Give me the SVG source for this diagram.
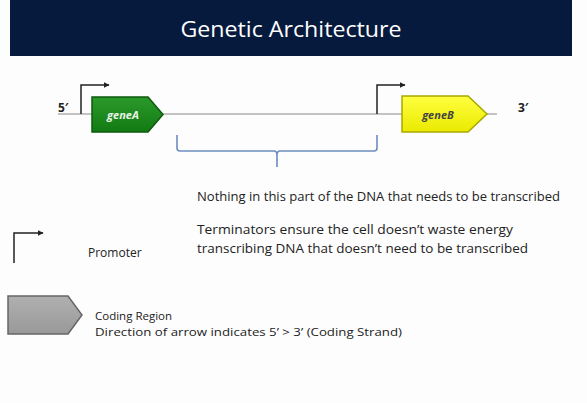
<svg xmlns="http://www.w3.org/2000/svg" width="587" height="403" viewBox="0 0 587 403">
<defs>
<marker id="ah" viewBox="0 0 10 10" refX="9" refY="5" markerWidth="4" markerHeight="4" orient="auto" markerUnits="strokeWidth">
<path d="M0,0 L10,5 L0,10 z" fill="#222"/>
</marker>
<linearGradient id="gg" x1="0" y1="0" x2="0" y2="1"><stop offset="0" stop-color="#2a9a2a"/><stop offset="1" stop-color="#137a13"/></linearGradient>
<linearGradient id="gy" x1="0" y1="0" x2="0" y2="1"><stop offset="0" stop-color="#ffff40"/><stop offset="1" stop-color="#eaea00"/></linearGradient>
<linearGradient id="gr" x1="0" y1="0" x2="0" y2="1"><stop offset="0" stop-color="#b0b0b0"/><stop offset="1" stop-color="#999"/></linearGradient>
</defs>
<style>
text{font-family:"Open Sans","Noto Sans","Liberation Sans",sans-serif;fill:#222}
.body{font-size:12px}
.small{font-size:11.5px}
.prom{fill:none;stroke:#222;stroke-width:1.5;marker-end:url(#ah)}
.dna{stroke:#8a8a8a;stroke-width:1.2}
.glabel{font-size:11px;font-style:italic;font-weight:bold}
</style>
<rect width="587" height="403" fill="#fdfdfd"/>
<g id="header">
<rect x="10" y="0" width="562" height="56" fill="#061a3e"/>
<text x="291" y="37" text-anchor="middle" font-size="22" textLength="221" lengthAdjust="spacingAndGlyphs" style="fill:#ffffff">Genetic Architecture</text>
</g>
<g id="connectors">
<line class="dna" x1="58" y1="114" x2="497" y2="114"/>
<path class="prom" d="M81,114 V85 H109"/>
<path class="prom" d="M377,114 V85 H405"/>
<path d="M177,135 V148 Q177,151 180,151 H274 Q277,151 277,155 V167 M277,155 Q277,151 280,151 H374 Q377,151 377,148 V135" fill="none" stroke="#6a8cbf" stroke-width="1.6"/>
</g>
<g id="end5"><text x="58" y="112" font-size="12" font-weight="bold">5′</text></g>
<g id="end3"><text x="518" y="112" font-size="12" font-weight="bold">3′</text></g>
<g id="geneA">
<path d="M92,97 H148 L163,114.5 L148,132 H92 z" fill="url(#gg)" stroke="#0d5a0d" stroke-width="1.5"/>
<text class="glabel" x="123" y="119" text-anchor="middle" style="fill:#e8f5e8">geneA</text>
</g>
<g id="geneB">
<path d="M402,96 H468 L487,114 L468,132 H402 z" fill="url(#gy)" stroke="#a8a800" stroke-width="1.5"/>
<text class="glabel" x="438" y="119" text-anchor="middle" style="fill:#444">geneB</text>
</g>
<g id="note1">
<text class="body" x="197" y="201" textLength="363" lengthAdjust="spacingAndGlyphs">Nothing in this part of the DNA that needs to be transcribed</text>
</g>
<g id="note2">
<text class="body" x="197" y="234" textLength="316" lengthAdjust="spacingAndGlyphs">Terminators ensure the cell doesn’t waste energy</text>
<text class="body" x="197" y="253" textLength="331" lengthAdjust="spacingAndGlyphs">transcribing DNA that doesn’t need to be transcribed</text>
</g>
<g id="legendPromoter">
<path class="prom" d="M14,263 V233 H43"/>
<text class="body" x="88" y="257">Promoter</text>
</g>
<g id="legendCoding">
<path d="M8,296 H68 L82,315 L68,334 H8 z" fill="url(#gr)" stroke="#666" stroke-width="1.5"/>
<text class="small" x="95" y="320">Coding Region</text>
<text class="small" x="95" y="336" textLength="307" lengthAdjust="spacingAndGlyphs">Direction of arrow indicates 5’ &gt; 3’ (Coding Strand)</text>
</g>
</svg>
